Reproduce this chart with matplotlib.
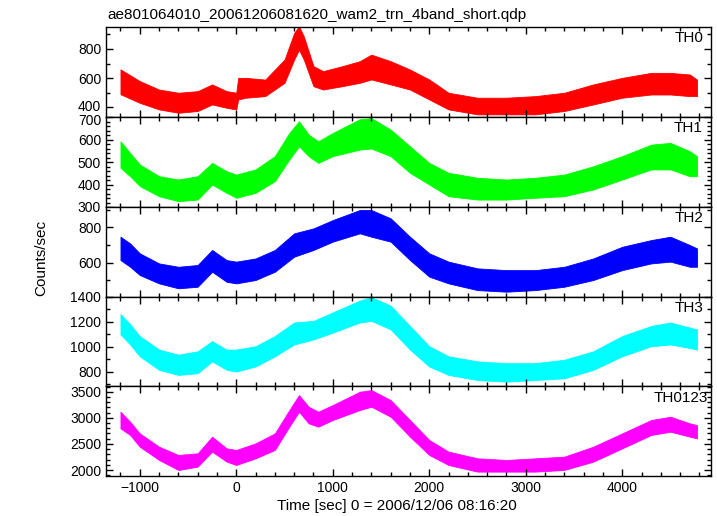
import matplotlib
matplotlib.use("Agg")
import matplotlib.pyplot as plt
from matplotlib.ticker import MultipleLocator
from matplotlib.transforms import ScaledTranslation

plt.rcParams['font.family'] = ['Liberation Sans', 'DejaVu Sans']

title = "ae801064010_20061206081620_wam2_trn_4band_short.qdp"
xlabel = "Time [sec] 0 = 2006/12/06 08:16:20"
ylabel = "Counts/sec"
names = ["TH0", "TH1", "TH2", "TH3", "TH0123"]
colors = ["#ff0000", "#00ff00", "#0000ff", "#00ffff", "#ff00ff"]

# TH0 envelope (lower/upper)
t_th0 = [-1200, -1000, -800, -600, -400, -250, -100, 0, 20, 100, 300, 500, 600, 650, 700,
         800, 900, 1100, 1280, 1400, 1600, 1800, 2000, 2200, 2500, 2800, 3100, 3400,
         3700, 4000, 4300, 4500, 4700, 4775]
lo_th0 = [490, 431, 386, 363, 375, 420, 397, 386, 454, 466, 477, 568, 727, 795, 727,
          545, 522, 545, 568, 591, 557, 522, 454, 386, 352, 352, 352, 375,
          420, 466, 488, 488, 477, 477]
hi_th0 = [660, 580, 522, 500, 511, 557, 511, 500, 602, 602, 590, 727, 909, 955, 886,
          682, 648, 682, 716, 761, 716, 659, 591, 500, 466, 466, 477, 500,
          557, 602, 636, 636, 625, 590]

# TH1
t_th1 = [-1200, -1100, -1000, -800, -600, -400, -250, -100, 0, 200, 400, 550, 650, 750,
         850, 1000, 1280, 1400, 1600, 1800, 2000, 2200, 2500, 2800, 3100, 3400, 3700,
         4000, 4300, 4500, 4700, 4775]
lo_th1 = [474, 437, 393, 348, 326, 333, 400, 363, 341, 363, 415, 511, 570, 526,
          496, 526, 555, 560, 526, 452, 400, 348, 333, 333, 341, 348, 378,
          422, 467, 467, 437, 437]
hi_th1 = [592, 540, 489, 437, 422, 437, 496, 459, 444, 467, 526, 629, 681, 622,
          592, 629, 690, 695, 644, 570, 496, 452, 430, 422, 430, 444, 481,
          526, 577, 585, 548, 526]

# TH2
t_th2 = [-1200, -1100, -1000, -800, -600, -400, -250, -100, 0, 200, 400, 600, 800, 1000,
         1280, 1400, 1600, 1800, 2000, 2200, 2500, 2800, 3100, 3400, 3700, 4000, 4300,
         4500, 4700, 4775]
lo_th2 = [615, 577, 530, 483, 455, 464, 549, 492, 483, 502, 549, 634, 672, 719,
          766, 747, 719, 615, 521, 483, 445, 436, 445, 464, 502, 558, 596,
          606, 577, 577]
hi_th2 = [747, 709, 653, 596, 577, 587, 672, 615, 606, 624, 672, 766, 794, 841,
          898, 898, 851, 747, 653, 606, 568, 558, 558, 577, 624, 690, 728,
          747, 700, 681]

# TH3
t_th3 = [-1200, -1100, -1000, -800, -600, -400, -250, -100, 0, 200, 400, 600, 800, 1000,
         1280, 1400, 1600, 1800, 2000, 2200, 2500, 2800, 3100, 3400, 3700, 4000, 4300,
         4500, 4700, 4775]
lo_th3 = [1099, 1018, 923, 814, 773, 787, 882, 814, 800, 841, 923, 1018, 1059, 1113,
          1195, 1208, 1140, 977, 841, 773, 732, 719, 732, 746, 814, 923, 1004,
          1018, 990, 977]
hi_th3 = [1263, 1181, 1086, 977, 936, 963, 1045, 977, 977, 1004, 1086, 1195, 1208, 1276,
          1371, 1399, 1330, 1167, 1004, 923, 882, 868, 868, 895, 963, 1086, 1167,
          1195, 1154, 1140]

# TH0123
t_sum = [-1200, -1100, -1000, -800, -600, -400, -250, -100, 0, 200, 400, 550, 650, 750,
         850, 1000, 1280, 1400, 1600, 1800, 2000, 2200, 2500, 2800, 3100, 3400, 3700,
         4000, 4300, 4500, 4700, 4775]
lo_sum = [2798, 2671, 2447, 2192, 2001, 2065, 2352, 2160, 2096, 2224, 2384, 2830, 3117, 2894,
          2830, 2958, 3149, 3213, 3021, 2639, 2288, 2096, 1969, 1969, 1969, 2001, 2160,
          2415, 2671, 2734, 2639, 2607]
hi_sum = [3117, 2926, 2702, 2447, 2288, 2320, 2639, 2415, 2384, 2511, 2702, 3149, 3436, 3213,
          3117, 3245, 3500, 3532, 3340, 2958, 2575, 2352, 2224, 2192, 2224, 2256, 2447,
          2702, 2958, 3021, 2894, 2862]

series = [(t_th0, lo_th0, hi_th0), (t_th1, lo_th1, hi_th1), (t_th2, lo_th2, hi_th2),
          (t_th3, lo_th3, hi_th3), (t_sum, lo_sum, hi_sum)]
ylims = [(334, 950), (300, 700), (406, 915), (684, 1400), (1885, 3610)]
ymajor = [200, 100, 200, 200, 500]
yminor = [100, 20, 100, 100, 100]
xlim = (-1350, 4920)

W, H = 717, 516
fig = plt.figure(figsize=(W / 100, H / 100), dpi=100)
edges = [27, 117, 207, 297, 386, 476]
label_right_px = [703, 702, 703, 703, 708]
left = 106 / W
width = (711 - 106) / W

axes = []
for i in range(5):
    top = 1 - edges[i] / H
    bot = 1 - edges[i + 1] / H
    ax = fig.add_axes([left, bot, width, top - bot], sharex=axes[0] if axes else None)
    axes.append(ax)
    t, lo, hi = series[i]
    ax.fill_between(t, lo, hi, color=colors[i], linewidth=0.6, edgecolor=colors[i])
    ax.set_xlim(*xlim)
    ax.set_ylim(*ylims[i])
    ax.yaxis.set_major_locator(MultipleLocator(ymajor[i]))
    ax.yaxis.set_minor_locator(MultipleLocator(yminor[i]))
    ax.xaxis.set_major_locator(MultipleLocator(1000))
    ax.xaxis.set_minor_locator(MultipleLocator(200))
    ax.tick_params(which='both', direction='in', top=True, right=True, labelsize=10,
                   width=1, colors='black')
    ax.tick_params(which='major', length=5)
    ax.tick_params(which='minor', length=3)
    for s in ax.spines.values():
        s.set_linewidth(1)
    axh = edges[i + 1] - edges[i]
    ax.text((label_right_px[i] - 106) / (711 - 106), 1 - 4.5 / axh, names[i],
            transform=ax.transAxes, ha='right', va='top', fontsize=11)
    if i < 4:
        ax.tick_params(labelbottom=False)

fig.text(107 / W, 1 - 15 / H, title, ha='left', va='center', fontsize=11)
fig.text(41 / W, 1 - 258 / H, ylabel, ha='center', va='center', rotation=90, fontsize=11)
fig.text(397 / W, 1 - 506 / H, xlabel, ha='center', va='center', fontsize=11)

# nudge the two touching tick labels at the TH0/TH1 boundary apart slightly
fig.canvas.draw()
for ax, loc, dy in [(axes[0], 400, 1.5), (axes[1], 700, -1.5)]:
    for tk in ax.yaxis.get_major_ticks():
        if abs(tk.get_loc() - loc) < 1e-6:
            tk.label1.set_transform(tk.label1.get_transform() +
                                    ScaledTranslation(0, dy / 72, fig.dpi_scale_trans))

fig.savefig("out.png", dpi=100)
